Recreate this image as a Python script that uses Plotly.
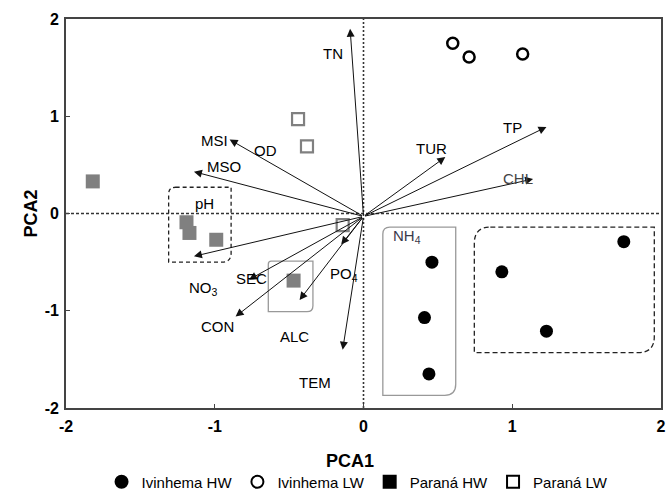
import plotly.graph_objects as go

# ---------------- data ----------------
iv_hw_x = [0.46, 0.41, 0.44, 0.93, 1.23, 1.75]
iv_hw_y = [-0.50, -1.07, -1.65, -0.60, -1.21, -0.29]
iv_lw_x = [0.60, 0.71, 1.07]
iv_lw_y = [1.75, 1.61, 1.64]
pa_hw_x = [-1.82, -1.19, -1.17, -0.99, -0.47]
pa_hw_y = [0.33, -0.09, -0.20, -0.27, -0.69]
pa_lw_x = [-0.44, -0.38, -0.14]
pa_lw_y = [0.97, 0.69, -0.12]

# variable loading arrows (tips), origin of arrows
arrow_names = ["TN", "MSI", "MSO", "pH", "SEC", "CON", "ALC", "PO4", "TEM", "TUR", "TP", "CHL"]
arrow_x = [-0.09, -0.90, -1.14, -1.14, -0.77, -0.86, -0.43, -0.15, -0.14, 0.55, 1.23, 1.14]
arrow_y = [1.90, 0.76, 0.43, -0.44, -0.68, -1.06, -0.89, -0.32, -1.40, 0.58, 0.89, 0.355]
arrow_origin = (0.0, -0.03)

# variable labels
label_text = ["TN", "MSI", "OD", "MSO", "pH", "NO<sub>3</sub>", "SEC", "CON", "ALC",
              "PO<sub>4</sub>", "TEM", "NH<sub>4</sub>", "TUR", "TP", "CHL"]
label_x = [-0.205, -1.005, -0.662, -0.938, -1.072, -1.077, -0.75, -0.983, -0.467,
           -0.13, -0.326, 0.29, 0.46, 1.00, 1.04]
label_y = [1.65, 0.749, 0.653, 0.488, 0.098, -0.77, -0.67, -1.157, -1.26,
           -0.63, -1.736, -0.24, 0.67, 0.88, 0.365]
label_color = ["#000", "#000", "#000", "#000", "#000", "#000", "#000", "#000", "#000",
               "#000", "#000", "#3a3a4a", "#000", "#000", "#444"]

# group outlines: x0, x1, y0, y1
box_ph = [-1.31, -0.89, -0.50, 0.27]
box_right = [0.745, 1.955, -1.43, -0.14]
box_nh4 = [0.13, 0.62, -1.87, -0.14]
box_alc = [-0.64, -0.34, -1.01, -0.49]

tick_vals = [-2, -1, 0, 1, 2]
tick_text = ["-2", "-1", "0", "1", "2"]

legend_names = ["Ivinhema HW", "Ivinhema LW", "Paraná HW", "Paraná LW"]

# ---------------- layout constants ----------------
W, H = 667, 494
ML, MR, MT, MB = 66, 6, 19, 86
PW, PH = W - ML - MR, H - MT - MB
PX_X = PW / 4.0
PX_Y = PH / 4.0

FONT = "Liberation Sans, Arial, sans-serif"


def rounded_box(b, r_tl, r_br):
    x0, x1, y0, y1 = b
    ax_tl, ay_tl = r_tl / PX_X, r_tl / PX_Y
    ax_br, ay_br = r_br / PX_X, r_br / PX_Y
    return (f"M {x0+ax_tl},{y1} L {x1},{y1} L {x1},{y0+ay_br} "
            f"Q {x1},{y0} {x1-ax_br},{y0} L {x0},{y0} L {x0},{y1-ay_tl} "
            f"Q {x0},{y1} {x0+ax_tl},{y1} Z")


fig = go.Figure()

fig.add_trace(go.Scatter(x=iv_hw_x, y=iv_hw_y, mode="markers", showlegend=False,
                         marker=dict(symbol="circle", size=13, color="black")))
fig.add_trace(go.Scatter(x=iv_lw_x, y=iv_lw_y, mode="markers", showlegend=False,
                         marker=dict(symbol="circle-open", size=11, color="black",
                                     line=dict(width=2.5, color="black"))))
fig.add_trace(go.Scatter(x=pa_hw_x, y=pa_hw_y, mode="markers", showlegend=False,
                         marker=dict(symbol="square", size=14, color="#808080")))
fig.add_trace(go.Scatter(x=pa_lw_x, y=pa_lw_y, mode="markers", showlegend=False,
                         marker=dict(symbol="square-open", size=12, color="#808080",
                                     line=dict(width=2.2, color="#808080"))))

# legend entries (black symbols)
leg_symbols = ["circle", "circle-open", "square", "square-open"]
for name, sym in zip(legend_names, leg_symbols):
    fig.add_trace(go.Scatter(x=[None], y=[None], mode="markers", name=name,
                             marker=dict(symbol=sym, size=12, color="black",
                                         line=dict(width=2, color="black"))))

shapes = []
# zero lines
shapes.append(dict(type="line", xref="x", yref="y", x0=0, x1=0, y0=-2, y1=2,
                   line=dict(color="#333", width=1.6, dash="2px,2px"), layer="below"))
shapes.append(dict(type="line", xref="x", yref="y", x0=-2, x1=2, y0=0, y1=0,
                   line=dict(color="#333", width=1.6, dash="3px,2px"), layer="below"))
# group outlines
shapes.append(dict(type="path", xref="x", yref="y", path=rounded_box(box_ph, 7, 9),
                   line=dict(color="#222", width=1.3, dash="4px,3px"), layer="below"))
shapes.append(dict(type="path", xref="x", yref="y", path=rounded_box(box_right, 16, 16),
                   line=dict(color="#222", width=1.3, dash="5px,3px"), layer="below"))
shapes.append(dict(type="path", xref="x", yref="y", path=rounded_box(box_nh4, 7, 11),
                   line=dict(color="#999", width=1.3), layer="below"))
shapes.append(dict(type="path", xref="x", yref="y", path=rounded_box(box_alc, 3, 6),
                   line=dict(color="#999", width=1.3), layer="below"))

annotations = []
for ax_, ay_ in zip(arrow_x, arrow_y):
    annotations.append(dict(x=ax_, y=ay_, xref="x", yref="y",
                            ax=arrow_origin[0], ay=arrow_origin[1], axref="x", ayref="y",
                            showarrow=True, arrowhead=2, arrowsize=1.6, arrowwidth=1,
                            arrowcolor="#111", text="", standoff=0, startstandoff=0))
for t, lx, ly, c in zip(label_text, label_x, label_y, label_color):
    annotations.append(dict(x=lx, y=ly, xref="x", yref="y", text=t, showarrow=False,
                            font=dict(family=FONT, size=15, color=c),
                            xanchor="center", yanchor="middle"))
# axis titles
annotations.append(dict(x=(350 - ML) / PW, y=(MT + PH - 461) / PH, xref="paper", yref="paper",
                        text="<b>PCA1</b>", showarrow=False, xanchor="center", yanchor="middle",
                        font=dict(family=FONT, size=18, color="black")))
annotations.append(dict(x=(30 - ML) / PW, y=0.5, xref="paper", yref="paper",
                        text="<b>PCA2</b>", showarrow=False, textangle=-90,
                        xanchor="center", yanchor="middle",
                        font=dict(family=FONT, size=18, color="black")))

axis_common = dict(range=[-2, 2], tickmode="array", tickvals=tick_vals, ticktext=tick_text,
                   ticks="inside", ticklen=4, tickcolor="#444", showgrid=False, zeroline=False,
                   showline=True, linecolor="#444", linewidth=1.6, mirror=True,
                   automargin=False,
                   tickfont=dict(family=FONT, size=16, color="black", weight="bold"))

fig.update_layout(
    width=W, height=H,
    margin=dict(l=ML, r=MR, t=MT, b=MB, autoexpand=False),
    paper_bgcolor="white", plot_bgcolor="white",
    xaxis=dict(**axis_common, ticklabelstandoff=3),
    yaxis=dict(**axis_common, ticklabelstandoff=2),
    shapes=shapes, annotations=annotations,
    showlegend=True,
    legend=dict(orientation="h", x=0.49, xanchor="center", y=(MT + PH - 482) / PH,
                yanchor="middle", font=dict(family=FONT, size=15, color="black"),
                itemwidth=30, tracegroupgap=0, bgcolor="rgba(0,0,0,0)"),
)

fig.write_html("out.html")
